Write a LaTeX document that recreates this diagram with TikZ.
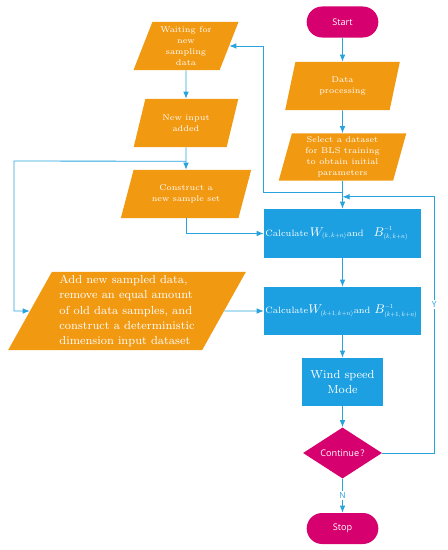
\documentclass[tikz,border=0pt]{standalone}
\usepackage{amsmath}
\usepackage{fontspec}
\newfontfamily\uifont{Open Sans}
\usetikzlibrary{shapes.geometric,shapes.misc,arrows.meta,positioning}
\definecolor{ioorange}{RGB}{242,153,18}
\definecolor{termpink}{RGB}{214,0,110}
\definecolor{procblue}{RGB}{28,160,226}
\definecolor{flowblue}{RGB}{41,163,222}
\newcommand{\mathbig}[1]{{\fontsize{9.5}{11}\selectfont$#1$}}
\newcommand{\subsz}[1]{\scalebox{0.5}{$#1$}}

\begin{document}
\begin{tikzpicture}[
    x=0.025cm, y=-0.025cm,
    >={Latex[length=5pt,width=4pt]},
    font=\fontsize{6}{7.8}\selectfont,
    terminal/.style={
		rounded rectangle,
		fill=termpink,
		text=white,
		minimum width=2.025cm,
		minimum height=0.775cm,
		font=\uifont\fontsize{6.5}{8}\selectfont
	},
	io/.style={
		trapezium,
		trapezium left angle=70,
		trapezium right angle=110,
		trapezium stretches=true,
		fill=ioorange,
		text=white,
		align=center,
		inner sep=1pt,
		minimum height=1.2cm
	},
	process/.style={
		rectangle,
		fill=procblue,
		text=white,
		minimum height=1.2cm
	},
	calcbox/.style={
		process,
		minimum width=3.925cm,
		text width=3.85cm,
		inner xsep=1pt,
		align=left,
		font=\fontsize{6.5}{7.8}\selectfont
	},
	decision/.style={
		diamond,
		fill=termpink,
		text=white,
		inner sep=0pt,
		minimum width=1.975cm,
		minimum height=1.2cm,
		font=\uifont\fontsize{6.5}{8}\selectfont
	},
	flow/.style={
		draw=flowblue,
		line width=0.6pt
	},
	yn/.style={
		fill=white,
		inner sep=1pt,
		text=flowblue,
		font=\uifont\fontsize{6}{7}\selectfont
	}
  ]

\useasboundingbox (0,0) rectangle (447,550);

% // main column
\node [terminal] (start) at (342.5,22) {Start};
\node [io, minimum width=2.875cm, trapezium left angle=76, trapezium right angle=104] (data) at (342.5,86) {Data\\processing};
\node [io, minimum width=3.2cm, minimum height=1.175cm, trapezium left angle=77, trapezium right angle=103] (select) at (342.5,157) {Select a dataset\\for BLS training\\to obtain initial\\parameters};

\node [calcbox, minimum height=1.225cm] (calc1) at (342.5,233.5)
 {\mbox{Calculate\,\mathbig{W_{\subsz{(k,k{+}n)}}}and\hspace{2.5mm}\mathbig{B^{\subsz{-1}}_{\subsz{(k,k{+}n)}}}}};
\node [calcbox] (calc2) at (342.5,311)
 {\mbox{Calculate\mathbig{W_{\subsz{(k{+}1,k{+}n)}}}and\hspace{1mm}\mathbig{B^{\subsz{-1}}_{\subsz{(k{+}1,k{+}n)}}}}};
\node [process, minimum width=2.025cm, align=center, font=\fontsize{8.3}{10}\selectfont] (wind) at (342.5,382) {Wind speed\\Mode};
\node [decision] (cont) at (342.5,453) {Continue\,?};
\node [terminal] (stop) at (342.5,528.5) {Stop};

% // sampling column
\node [io, minimum width=2.625cm] (wait) at (186,46) {Waiting for\\new\\sampling\\data};
\node [io, minimum width=2.625cm] (newin) at (186,123) {New input\\added};
\node [io, minimum width=3.275cm, trapezium left angle=68, trapezium right angle=112] (construct) at (186,194) {Construct a\\new sample set};
\node [io, minimum width=5.95cm, minimum height=1.95cm, trapezium left angle=62, trapezium right angle=118, align=left, font=\fontsize{8.3}{11}\selectfont] (add) at (127,311)
 {Add new sampled data,\\remove an equal amount\\of old data samples, and\\construct a deterministic\\dimension input dataset};

% // junctions
\path (select.south) ++(0,12) coordinate (split);
\path (select.south) ++(0,16) coordinate (merge);
\path (newin.south) ++(0,14) coordinate (split2);
\coordinate (lrail) at (14,161);

 \draw [flow, ->] (start) -- (data);
 \draw [flow, ->] (data) -- (select);
 \draw [flow, ->] (select) -- (calc1);
 \draw [flow, ->] (split) -| (calc1.west |- wait.east) -- (wait.east);
 \draw [flow, ->] (calc1) -- (calc2);
 \draw [flow, ->] (calc2) -- (wind);
 \draw [flow, ->] (wind) -- (cont);
 \draw [flow, ->] (cont) -- node [yn] {N} (stop);
 \draw [flow, ->] (cont.east) -- ++(52,0) |- node [yn, pos=0.29] {Y} (merge);

 \draw [flow, ->] (wait) -- (newin);
 \draw [flow, ->] (newin) -- (construct);
 \draw [flow, ->] (split2) -- (lrail) |- (add.west);
 \draw [flow, ->] (construct.south) |- (calc1.west);
 \draw [flow, ->] (add.east) -- (calc2.west);

\end{tikzpicture}
\end{document}
